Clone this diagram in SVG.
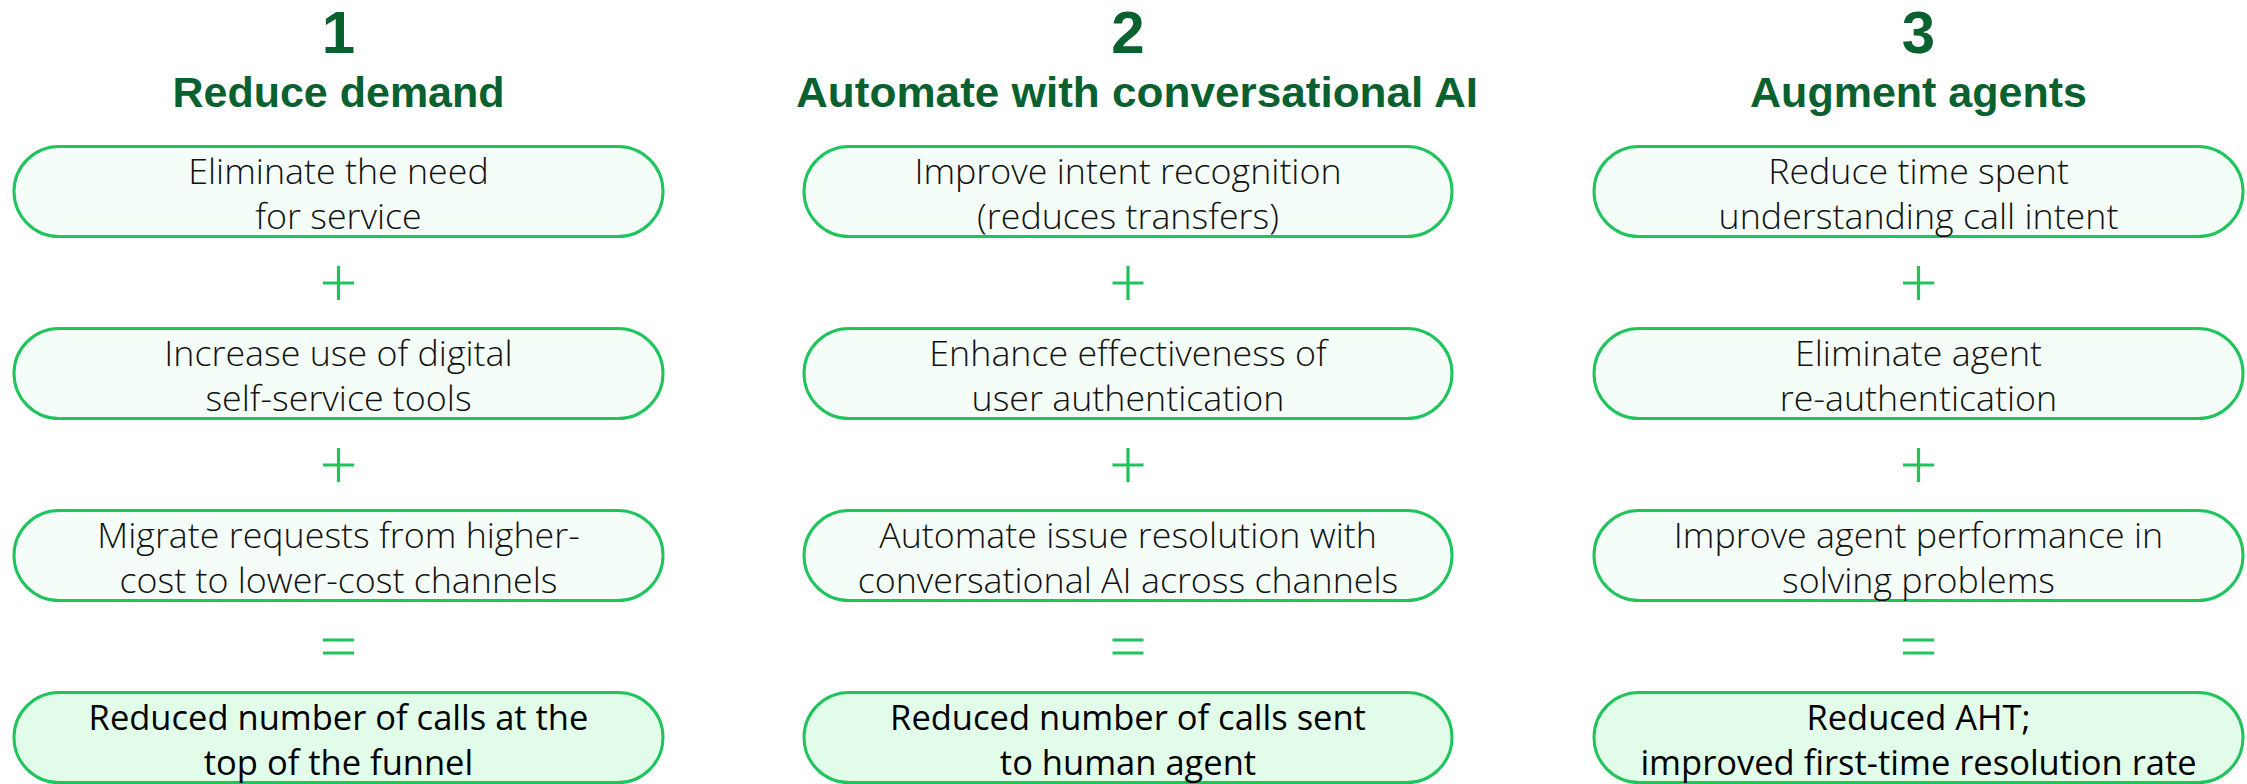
<svg xmlns="http://www.w3.org/2000/svg" width="2247" height="784" viewBox="0 0 2247 784">
<style>
.num{font-family:"Liberation Sans",Arial,sans-serif;font-weight:700;font-size:60px;fill:#0a6130;text-anchor:middle}
.ttl{font-family:"Liberation Sans",Arial,sans-serif;font-weight:700;font-size:43px;fill:#0a6130;text-anchor:middle}
.box{fill:#f4fdf7;stroke:#1fc45c;stroke-width:3}
.res{fill:#e2fcea;stroke:#1fc45c;stroke-width:3}
.t{font-family:"Open Sans","Liberation Sans",sans-serif;font-weight:300;font-size:35.8px;fill:#111;text-anchor:middle}
.r{font-family:"Open Sans","Liberation Sans",sans-serif;font-weight:400;font-size:34.5px;fill:#000;text-anchor:middle}
.op{stroke:#1fc45c;stroke-width:3.2;fill:none}
</style>
<defs>
<g id="plus"><path class="op" d="M-15.5 0H15.5M0 -17V17"/></g>
<g id="eq"><path class="op" d="M-15.5 -6.5H15.5M-15.5 6.5H15.5"/></g>
</defs>
<rect width="2247" height="784" fill="#ffffff"/>

<g id="col1-header">
<text class="num" x="338.5" y="53">1</text>
<text class="ttl" x="338.5" y="107">Reduce demand</text>
</g>
<g id="col2-header">
<text class="num" x="1128" y="53">2</text>
<text class="ttl" x="1137" y="107" textLength="682" lengthAdjust="spacingAndGlyphs">Automate with conversational AI</text>
</g>
<g id="col3-header">
<text class="num" x="1918.5" y="53">3</text>
<text class="ttl" x="1918.5" y="107">Augment agents</text>
</g>

<g id="connectors">
<use href="#plus" x="338.5" y="283"/>
<use href="#plus" x="338.5" y="465"/>
<use href="#eq" x="338.5" y="646.5"/>
<use href="#plus" x="1128" y="283"/>
<use href="#plus" x="1128" y="465"/>
<use href="#eq" x="1128" y="646.5"/>
<use href="#plus" x="1918.5" y="283"/>
<use href="#plus" x="1918.5" y="465"/>
<use href="#eq" x="1918.5" y="646.5"/>
</g>

<g id="n1a"><rect class="box" x="14" y="146.5" width="649" height="90" rx="45"/>
<text class="t" x="338.5" y="183.5">Eliminate the need</text><text class="t" x="338.5" y="228.5">for service</text></g>
<g id="n1b"><rect class="box" x="14" y="328.5" width="649" height="90" rx="45"/>
<text class="t" x="338.5" y="365.5">Increase use of digital</text><text class="t" x="338.5" y="410.5">self-service tools</text></g>
<g id="n1c"><rect class="box" x="14" y="510.5" width="649" height="90" rx="45"/>
<text class="t" x="338.5" y="547.5">Migrate requests from higher-</text><text class="t" x="338.5" y="592.5">cost to lower-cost channels</text></g>
<g id="n1d"><rect class="res" x="14" y="692.5" width="649" height="90" rx="45"/>
<text class="r" x="338.5" y="729.5">Reduced number of calls at the</text><text class="r" x="338.5" y="774.5">top of the funnel</text></g>

<g id="n2a"><rect class="box" x="804" y="146.5" width="648" height="90" rx="45"/>
<text class="t" x="1128" y="183.5">Improve intent recognition</text><text class="t" x="1128" y="228.5">(reduces transfers)</text></g>
<g id="n2b"><rect class="box" x="804" y="328.5" width="648" height="90" rx="45"/>
<text class="t" x="1128" y="365.5">Enhance effectiveness of</text><text class="t" x="1128" y="410.5">user authentication</text></g>
<g id="n2c"><rect class="box" x="804" y="510.5" width="648" height="90" rx="45"/>
<text class="t" x="1128" y="547.5">Automate issue resolution with</text><text class="t" x="1128" y="592.5">conversational AI across channels</text></g>
<g id="n2d"><rect class="res" x="804" y="692.5" width="648" height="90" rx="45"/>
<text class="r" x="1128" y="729.5">Reduced number of calls sent</text><text class="r" x="1128" y="774.5">to human agent</text></g>

<g id="n3a"><rect class="box" x="1594" y="146.5" width="649" height="90" rx="45"/>
<text class="t" x="1918.5" y="183.5">Reduce time spent</text><text class="t" x="1918.5" y="228.5">understanding call intent</text></g>
<g id="n3b"><rect class="box" x="1594" y="328.5" width="649" height="90" rx="45"/>
<text class="t" x="1918.5" y="365.5">Eliminate agent</text><text class="t" x="1918.5" y="410.5">re-authentication</text></g>
<g id="n3c"><rect class="box" x="1594" y="510.5" width="649" height="90" rx="45"/>
<text class="t" x="1918.5" y="547.5">Improve agent performance in</text><text class="t" x="1918.5" y="592.5">solving problems</text></g>
<g id="n3d"><rect class="res" x="1594" y="692.5" width="649" height="90" rx="45"/>
<text class="r" x="1918.5" y="729.5">Reduced AHT;</text><text class="r" x="1918.5" y="774.5">improved first-time resolution rate</text></g>
</svg>
